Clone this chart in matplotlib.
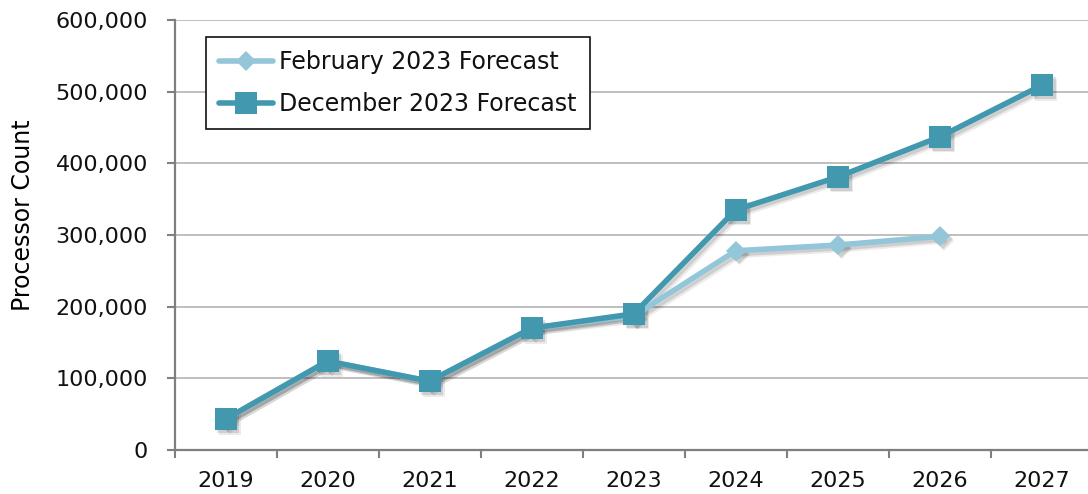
import matplotlib
matplotlib.use("Agg")
import matplotlib.pyplot as plt
from matplotlib.transforms import ScaledTranslation
from matplotlib.ticker import FuncFormatter, FixedLocator

years = ["2019", "2020", "2021", "2022", "2023", "2024", "2025", "2026", "2027"]
feb_2023 = [43000, 124000, 96000, 170000, 187000, 278000, 286000, 298000]
dec_2023 = [43000, 124000, 96000, 170000, 190000, 335000, 381000, 437000, 509000]
y_ticks = [0, 100000, 200000, 300000, 400000, 500000, 600000]

plt.rcParams['font.family'] = ['DejaVu Sans']
plt.rcParams['text.color'] = '#111111'

FEB_C = '#93C6D8'
DEC_C = '#4298AF'

fig = plt.figure(figsize=(10.88, 4.94), dpi=100)
ax = fig.add_axes([174.5/1088, 44/494, (1093-174.5)/1088, (450-20)/494])

x_feb = list(range(len(feb_2023)))
x_dec = list(range(len(dec_2023)))

# soft shadows (two offset layers for a blurred look)
for off, a in [(2.0, 0.12), (3.2, 0.08)]:
    shift = ScaledTranslation(off/72, -off/72, fig.dpi_scale_trans)
    for xs, ys, mk, ms in [(x_feb, feb_2023, 'D', 10), (x_dec, dec_2023, 's', 16)]:
        ax.plot(xs, ys, color='#000000', alpha=a, lw=4, marker=mk, ms=ms,
                mew=0, transform=ax.transData + shift, zorder=2, solid_capstyle='round')

ax.plot(x_feb, feb_2023, color=FEB_C, lw=4, marker='D', ms=10, mew=0,
        label='February 2023 Forecast', zorder=3, solid_capstyle='round')
ax.plot(x_dec, dec_2023, color=DEC_C, lw=4, marker='s', ms=16, mew=0,
        label='December 2023 Forecast', zorder=4, solid_capstyle='round')

ax.set_xlim(-0.5, len(years) - 0.5)
ax.set_ylim(0, 600000)
ax.yaxis.set_major_locator(FixedLocator(y_ticks))
ax.yaxis.set_major_formatter(FuncFormatter(lambda v, p: f"{int(v):,}"))
ax.set_xticks([i - 0.5 for i in range(len(years) + 1)])
ax.set_xticklabels([])
ax.set_xticks(range(len(years)), minor=True)
ax.set_xticklabels(years, minor=True)
ax.tick_params(axis='x', which='minor', length=0, pad=15, labelsize=16, labelcolor='#111111')
ax.tick_params(axis='x', which='major', length=6, width=1.5, color='#7F7F7F', direction='out')
ax.tick_params(axis='y', length=6, width=1.5, color='#7F7F7F', labelsize=16, pad=13,
               labelcolor='#111111')

ax.grid(axis='y', color='#B4B4B4', lw=1.2)
ax.set_axisbelow(True)
for s in ['top', 'right']:
    ax.spines[s].set_visible(False)
for s in ['left', 'bottom']:
    ax.spines[s].set_color('#7F7F7F')
    ax.spines[s].set_linewidth(1.6)

ax.set_ylabel('Processor Count', fontsize=17)
ax.yaxis.set_label_coords((35 - 174.5)/918.5, (450 - 215)/430)

leg = ax.legend(loc='upper left', bbox_to_anchor=((206 - 174.5)/918.5, (450 - 37)/430),
                borderaxespad=0, fontsize=17, frameon=True, fancybox=False,
                edgecolor='#111111', framealpha=1, handlelength=2.3,
                borderpad=0.55, labelspacing=0.78, handletextpad=0.25)
leg.get_frame().set_linewidth(1.2)

fig.savefig('out.png', dpi=100)
